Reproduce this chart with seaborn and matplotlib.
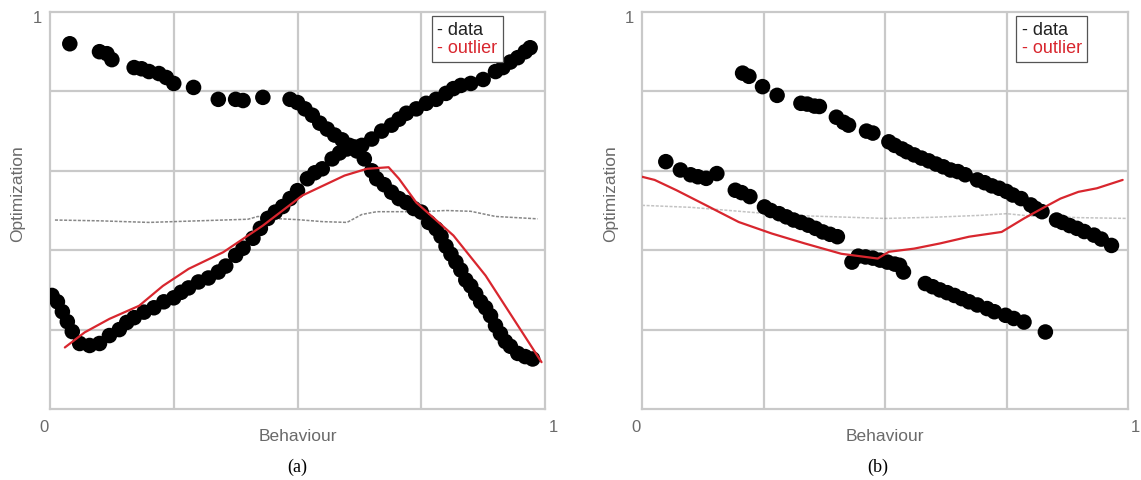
import matplotlib
matplotlib.use("Agg")
import matplotlib.pyplot as plt
from matplotlib.lines import Line2D
import seaborn as sns

# ---------------- data: panel (a) ----------------
a_dec_x = [0.04, 0.10, 0.115, 0.125, 0.17, 0.185, 0.20, 0.22, 0.235, 0.25, 0.29, 0.34, 0.375, 0.39, 0.43,
           0.485, 0.50, 0.515, 0.53, 0.545, 0.56, 0.575, 0.59, 0.605, 0.62, 0.635, 0.65, 0.66, 0.675, 0.69,
           0.705, 0.72, 0.735, 0.75, 0.765, 0.78, 0.79, 0.80, 0.81, 0.82, 0.83, 0.84, 0.85, 0.86, 0.87,
           0.88, 0.89, 0.90, 0.91, 0.92, 0.93, 0.945, 0.96, 0.975]
a_dec_y = [0.92, 0.90, 0.895, 0.88, 0.86, 0.857, 0.85, 0.845, 0.835, 0.82, 0.81, 0.78, 0.78, 0.777, 0.785,
           0.78, 0.772, 0.756, 0.74, 0.72, 0.705, 0.69, 0.678, 0.664, 0.65, 0.63, 0.60, 0.58, 0.565, 0.546,
           0.53, 0.52, 0.505, 0.496, 0.47, 0.454, 0.435, 0.41, 0.39, 0.37, 0.35, 0.325, 0.31, 0.29, 0.27,
           0.255, 0.235, 0.21, 0.19, 0.17, 0.158, 0.14, 0.132, 0.126]
a_inc_x = [0.004, 0.015, 0.025, 0.035, 0.045, 0.06, 0.08, 0.10, 0.12, 0.14, 0.155, 0.17, 0.19, 0.21, 0.23,
           0.25, 0.265, 0.28, 0.30, 0.32, 0.34, 0.355, 0.375, 0.39, 0.41, 0.425, 0.44, 0.455, 0.47, 0.485,
           0.50, 0.52, 0.535, 0.55, 0.57, 0.585, 0.60, 0.615, 0.63, 0.65, 0.67, 0.69, 0.705, 0.72, 0.74,
           0.76, 0.78, 0.80, 0.815, 0.83, 0.85, 0.875, 0.90, 0.915, 0.93, 0.945, 0.96, 0.97]
a_inc_y = [0.286, 0.27, 0.245, 0.22, 0.195, 0.165, 0.16, 0.165, 0.185, 0.20, 0.218, 0.23, 0.244, 0.255, 0.27,
           0.28, 0.294, 0.305, 0.32, 0.33, 0.345, 0.36, 0.387, 0.405, 0.43, 0.455, 0.48, 0.496, 0.51, 0.53,
           0.55, 0.58, 0.595, 0.605, 0.63, 0.645, 0.655, 0.66, 0.664, 0.68, 0.70, 0.715, 0.73, 0.745, 0.756,
           0.77, 0.78, 0.795, 0.807, 0.815, 0.82, 0.83, 0.85, 0.86, 0.874, 0.885, 0.90, 0.91]
a_out_x = [0.03, 0.07, 0.12, 0.18, 0.228, 0.28, 0.35, 0.43, 0.51, 0.595, 0.64, 0.684, 0.705, 0.74, 0.815, 0.88, 0.993]
a_out_y = [0.155, 0.193, 0.227, 0.26, 0.31, 0.353, 0.395, 0.462, 0.538, 0.588, 0.605, 0.609, 0.58, 0.52, 0.437, 0.336, 0.118]
a_grey_x = [0.01, 0.1, 0.2, 0.3, 0.4, 0.42, 0.45, 0.5, 0.55, 0.6, 0.63, 0.66, 0.75, 0.8, 0.85, 0.9, 0.985]
a_grey_y = [0.476, 0.474, 0.47, 0.474, 0.478, 0.485, 0.48, 0.477, 0.472, 0.47, 0.49, 0.497, 0.497, 0.5, 0.498, 0.485, 0.479]

# ---------------- data: panel (b) ----------------
b_up_x = [0.207, 0.22, 0.248, 0.278, 0.327, 0.34, 0.355, 0.365, 0.40, 0.415, 0.425, 0.462, 0.475, 0.508, 0.52,
          0.535, 0.545, 0.56, 0.575, 0.59, 0.605, 0.62, 0.635, 0.65, 0.665, 0.69, 0.705, 0.72, 0.735, 0.75,
          0.763, 0.78, 0.80, 0.81, 0.823, 0.853, 0.865, 0.88, 0.895, 0.91, 0.93, 0.945, 0.966]
b_up_y = [0.846, 0.838, 0.812, 0.79, 0.77, 0.768, 0.763, 0.762, 0.735, 0.722, 0.715, 0.70, 0.695, 0.673, 0.664,
          0.655, 0.648, 0.64, 0.632, 0.625, 0.617, 0.61, 0.602, 0.598, 0.59, 0.577, 0.57, 0.562, 0.556, 0.548,
          0.539, 0.53, 0.514, 0.505, 0.497, 0.476, 0.47, 0.462, 0.455, 0.447, 0.438, 0.428, 0.412]
b_lo_x = [0.049, 0.079, 0.10, 0.115, 0.132, 0.154, 0.192, 0.205, 0.222, 0.252, 0.265, 0.282, 0.297, 0.312,
          0.327, 0.342, 0.357, 0.372, 0.387, 0.402, 0.432, 0.445, 0.46, 0.475, 0.49, 0.505, 0.52, 0.53, 0.538,
          0.583, 0.598, 0.613, 0.628, 0.643, 0.658, 0.673, 0.69, 0.71, 0.725, 0.748, 0.765, 0.786, 0.83]
b_lo_y = [0.623, 0.602, 0.59, 0.585, 0.581, 0.593, 0.551, 0.545, 0.535, 0.509, 0.50, 0.492, 0.484, 0.476,
          0.47, 0.463, 0.455, 0.446, 0.44, 0.434, 0.37, 0.385, 0.383, 0.38, 0.375, 0.37, 0.365, 0.362, 0.345,
          0.316, 0.308, 0.30, 0.293, 0.286, 0.278, 0.27, 0.262, 0.253, 0.245, 0.236, 0.228, 0.219, 0.194]
b_out_x = [0.0, 0.026, 0.071, 0.132, 0.199, 0.267, 0.335, 0.41, 0.485, 0.508, 0.56, 0.613, 0.673, 0.74,
           0.786, 0.823, 0.861, 0.898, 0.936, 0.989]
b_out_y = [0.585, 0.577, 0.551, 0.513, 0.471, 0.442, 0.417, 0.391, 0.379, 0.396, 0.404, 0.417, 0.434, 0.446,
           0.48, 0.505, 0.53, 0.547, 0.556, 0.577]
b_grey_x = [0.0, 0.1, 0.2, 0.3, 0.4, 0.5, 0.6, 0.7, 0.75, 0.8, 0.9, 1.0]
b_grey_y = [0.513, 0.508, 0.498, 0.488, 0.484, 0.48, 0.483, 0.488, 0.492, 0.486, 0.482, 0.48]

captions = ["(a)", "(b)"]
legend_labels = ["- data", "- outlier"]
x_label = "Behaviour"
y_label = "Optimization"

sns.set_theme(style="white")
plt.rcParams['font.family'] = ['Liberation Sans', 'DejaVu Sans']

fig = plt.figure(figsize=(11.41, 4.81), dpi=100)
ax_a = fig.add_axes([50 / 1141, 71 / 481, 495 / 1141, 397 / 481])
ax_b = fig.add_axes([642 / 1141, 71 / 481, 486 / 1141, 397 / 481])

RED = "#d8262e"
GRID = "#c9c9c9"
TXT = "#6a6a6a"


def draw(ax, series, out_x, out_y, grey_x, grey_y, grey_alpha, leg_x, leg_y, cap, cx):
    sns.lineplot(x=grey_x, y=grey_y, ax=ax, color="#7a7a7a", lw=1.1, alpha=grey_alpha,
                 linestyle=(0, (2, 1)), sort=False, estimator=None, zorder=2)
    for sx, sy in series:
        sns.scatterplot(x=sx, y=sy, ax=ax, color="black", s=125, edgecolor="none", zorder=3)
    sns.lineplot(x=out_x, y=out_y, ax=ax, color=RED, lw=1.6, sort=False, estimator=None, zorder=4)
    ax.set_xlim(0, 1)
    ax.set_ylim(0, 1)
    ax.set_xticks([0.25, 0.5, 0.75])
    ax.set_yticks([0.2, 0.4, 0.6, 0.8])
    ax.set_xticklabels([])
    ax.set_yticklabels([])
    ax.tick_params(length=0)
    ax.grid(True, color=GRID, lw=1.6)
    ax.set_axisbelow(True)
    for sp in ax.spines.values():
        sp.set_color(GRID)
        sp.set_linewidth(1.6)
    ax.set_xlabel("")
    ax.set_ylabel("")
    ax.text(-0.012, -0.045, "0", transform=ax.transAxes, ha="center", va="center", fontsize=12, color=TXT)
    ax.text(1.016, -0.043, "1", transform=ax.transAxes, ha="center", va="center", fontsize=12, color=TXT)
    ax.text(-0.026, 0.985, "1", transform=ax.transAxes, ha="center", va="center", fontsize=12, color=TXT)
    ax.text(0.5, -0.066, x_label, transform=ax.transAxes, ha="center", va="center", fontsize=12.5, color=TXT)
    ax.text(-0.065, 0.545, y_label, transform=ax.transAxes, ha="center", va="center",
            rotation=90, fontsize=12.5, color=TXT)
    handles = [Line2D([], [], lw=0), Line2D([], [], lw=0)]
    leg = ax.legend(handles, legend_labels, loc="upper right", bbox_to_anchor=(leg_x, leg_y),
                    handlelength=0, handletextpad=0, borderpad=0.3, labelspacing=0.05, fancybox=False,
                    framealpha=1, edgecolor="#555555", fontsize=13, borderaxespad=0)
    leg.get_frame().set_linewidth(0.9)
    leg.get_texts()[0].set_color("#222222")
    leg.get_texts()[1].set_color(RED)
    fig.text(cx / 1141, 1 - 467 / 481, cap, ha="center", va="center", fontsize=13,
             family=["Liberation Serif", "DejaVu Serif"], color="black")


draw(ax_a, [(a_dec_x, a_dec_y), (a_inc_x, a_inc_y)], a_out_x, a_out_y, a_grey_x, a_grey_y, 0.9,
     0.915, 0.99, captions[0], 297)
draw(ax_b, [(b_up_x, b_up_y), (b_lo_x, b_lo_y)], b_out_x, b_out_y, b_grey_x, b_grey_y, 0.45,
     0.916, 0.99, captions[1], 878)

fig.savefig("out.png", dpi=100)
